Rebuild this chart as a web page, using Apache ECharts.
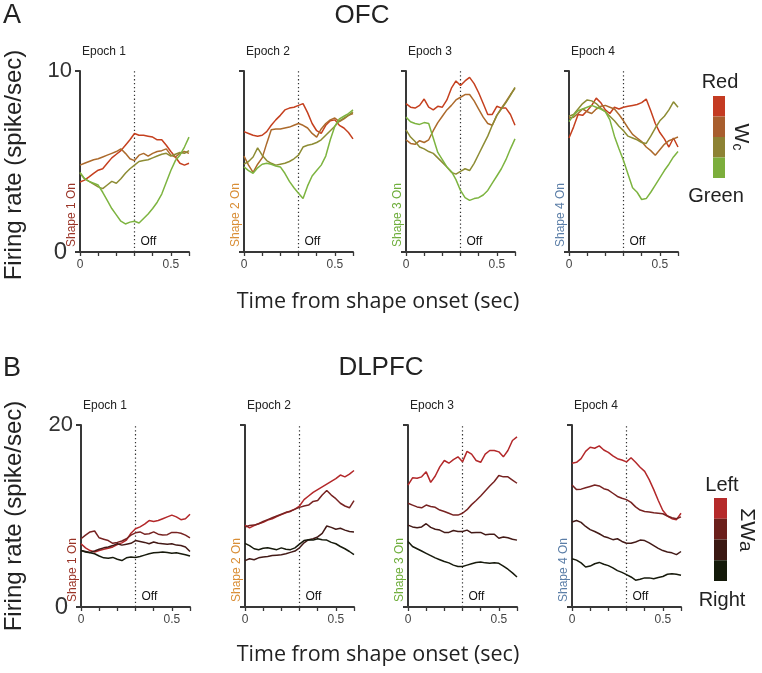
<!DOCTYPE html>
<html><head><meta charset="utf-8">
<script src="https://cdn.jsdelivr.net/npm/echarts@6/dist/echarts.min.js"></script>
<style>html,body{margin:0;padding:0;background:#fff}#c{width:762px;height:673px}</style>
</head><body><div id="c"></div>
<script>
// ---- time grid (sec) ----
const timeSec = [0,0.025,0.05,0.075,0.1,0.125,0.15,0.175,0.2,0.225,0.25,0.275,0.3,0.325,0.35,0.375,0.4,0.425,0.45,0.475,0.5,0.525,0.55,0.575,0.6];
const offTime = 0.3;
const epochLabels = ['Epoch 1','Epoch 2','Epoch 3','Epoch 4'];
const shapeLabels = ['Shape 1 On','Shape 2 On','Shape 3 On','Shape 4 On'];
const ofcTicks = [0, 10];
const dlpfcTicks = [0, 20];
const xTickLabels = ['0','0.5'];

// ---- OFC (Wc: Red -> Green) ----
const ofc1Red   = [3.87,3.97,4.15,4.34,4.52,4.6,4.9,5.2,5.4,5.6,5.9,6.2,6.55,6.45,6.45,6.4,6.35,6.2,6.2,5.9,5.55,5.25,4.9,4.8,4.9];
const ofc1Brown = [4.8,4.9,5.0,5.1,5.15,5.25,5.35,5.45,5.55,5.7,5.45,5.15,5.05,5.35,5.45,5.3,5.45,5.55,5.6,5.7,5.35,5.25,5.45,5.55,5.45];
const ofc1Olive = [4.35,4.05,3.9,3.75,3.6,3.5,3.7,3.9,3.8,4.05,4.35,4.6,4.8,5.0,5.05,5.1,5.2,5.3,5.4,5.45,5.3,5.4,5.5,5.45,5.6];
const ofc1Green = [4.4,4.05,3.9,3.8,3.7,3.3,2.85,2.4,2.05,1.7,1.55,1.65,1.7,1.6,1.85,2.1,2.4,2.75,3.2,3.85,4.5,5.05,5.35,5.8,6.35];

const ofc2Red   = [6.65,6.55,6.45,6.4,6.45,6.65,7.0,7.3,7.55,7.85,7.95,8.0,8.1,8.2,7.7,7.1,6.7,6.55,7.0,7.25,7.3,7.0,6.85,6.6,6.25];
const ofc2Brown = [5.3,4.8,4.4,4.85,5.2,6.0,6.75,6.8,6.8,6.85,6.9,7.0,7.1,7.0,6.85,6.55,6.35,6.8,7.1,7.3,7.4,7.2,7.35,7.55,7.65];
const ofc2Olive = [4.85,5.0,5.25,5.75,5.35,5.05,4.9,4.8,4.85,4.9,5.0,5.15,5.35,5.8,5.9,5.95,6.05,6.2,6.45,6.7,6.95,7.25,7.4,7.55,7.75];
const ofc2Green = [4.7,4.5,4.35,4.65,4.85,4.9,4.85,4.75,4.7,4.35,3.9,3.55,3.25,2.95,3.65,4.2,4.5,4.8,5.3,6.2,6.95,7.35,7.5,7.65,7.85];

const ofc3Red   = [8.2,8.0,7.95,8.1,8.45,8.0,7.85,8.05,8.0,8.4,9.05,9.45,9.2,9.45,9.65,9.3,8.8,8.2,7.6,7.6,8.05,7.95,7.95,7.6,7.0];
const ofc3Brown = [6.2,6.0,5.95,6.15,6.05,6.2,6.7,7.15,7.5,7.85,8.1,8.4,8.55,8.7,8.7,8.35,7.9,7.45,7.1,7.0,7.55,7.95,8.3,8.7,9.05];
const ofc3Olive = [6.75,6.35,6.1,5.8,5.7,5.55,5.45,5.2,4.95,4.7,4.4,4.3,4.45,4.6,4.5,4.9,5.4,5.9,6.4,7.0,7.55,7.9,8.25,8.65,9.1];
const ofc3Green = [7.45,7.2,7.1,7.05,7.15,7.1,6.3,5.5,5.1,4.7,4.45,4.0,3.4,3.0,2.85,2.95,3.0,3.15,3.4,3.8,4.2,4.6,5.1,5.7,6.25];

const ofc4Red   = [6.3,6.9,7.6,7.55,7.8,8.1,8.5,8.25,7.85,7.65,8.0,7.9,8.0,8.05,8.1,8.15,8.25,8.45,7.8,7.1,6.6,6.25,5.8,6.3,5.8];
const ofc4Brown = [7.4,7.45,7.65,7.9,7.75,7.65,7.9,8.05,8.1,8.0,7.9,7.6,7.25,6.85,6.5,6.3,6.1,5.8,5.6,5.35,5.65,5.95,6.15,6.25,6.35];
const ofc4Olive = [7.5,7.6,7.9,8.2,8.4,8.35,8.2,7.95,7.75,7.5,7.25,6.95,6.7,6.4,6.3,6.2,6.05,6.0,6.4,6.85,7.25,7.5,7.85,8.3,8.0];
const ofc4Green = [7.2,7.55,7.8,7.9,8.0,8.1,8.0,7.9,7.75,7.3,6.4,5.7,5.05,4.3,3.55,3.3,2.9,2.95,3.3,3.7,4.1,4.5,4.85,5.25,5.55];

// ---- DLPFC (ΣWa: Left -> Right) ----
const dl1Left    = [6.95,6.5,6.2,6.05,6.2,6.35,6.45,6.6,6.85,7.05,7.35,8.1,8.6,8.8,9.1,9.5,9.4,9.5,9.7,9.9,10.1,9.9,9.6,9.7,10.2];
const dl1MidL    = [7.5,7.9,8.25,8.35,7.6,7.45,7.3,7.0,7.1,7.25,7.5,7.9,8.15,8.25,8.0,8.05,8.25,8.0,7.9,7.95,8.2,8.2,8.1,7.9,7.6];
const dl1MidR    = [6.2,6.1,6.0,6.15,6.35,6.5,6.6,6.75,6.95,6.8,6.9,7.0,7.3,7.2,7.1,6.95,7.15,7.0,6.95,6.9,6.95,6.8,6.75,6.6,6.1];
const dl1Right   = [6.2,6.05,5.95,5.85,5.6,5.4,5.35,5.45,5.25,5.1,5.4,5.5,5.45,5.55,5.7,5.85,5.95,6.0,6.05,6.0,5.9,5.95,5.85,5.75,5.6];

const dl2Left    = [9.0,8.7,8.95,9.15,9.3,9.55,9.7,9.95,10.15,10.35,10.55,10.75,11.1,11.8,12.2,12.6,12.9,13.2,13.5,13.8,14.1,14.5,14.3,14.6,15.0];
const dl2MidL    = [8.8,8.95,9.0,9.15,9.4,9.6,9.8,10.0,10.2,10.4,10.5,10.75,10.95,11.1,11.2,11.6,11.7,12.3,12.8,12.3,11.9,11.4,11.1,10.9,11.7];
const dl2MidR    = [5.1,5.3,5.2,5.4,5.5,5.55,5.65,5.7,5.75,5.85,6.0,6.15,6.5,7.05,7.4,7.5,7.7,8.1,8.9,8.75,8.55,8.65,8.45,8.3,8.25];
const dl2Right   = [7.0,6.75,6.4,6.3,6.45,6.5,6.4,6.3,6.5,6.35,6.3,6.5,6.9,7.3,7.4,7.35,7.5,7.4,7.35,7.1,6.95,6.65,6.4,6.1,5.75];

const dl3Left    = [13.4,14.2,14.15,14.3,14.85,13.7,14.4,15.4,16.1,15.8,16.2,16.5,15.95,17.1,16.8,16.1,15.9,16.8,17.2,17.2,17.05,16.5,17.2,18.3,18.7];
const dl3MidL    = [11.4,11.2,11.0,10.9,11.2,11.05,10.95,10.65,10.5,10.3,10.1,10.1,10.3,10.7,11.25,11.7,12.2,12.75,13.3,13.8,14.45,14.3,14.3,13.95,13.6];
const dl3MidR    = [9.0,8.8,8.7,8.8,9.15,8.75,8.55,8.45,8.2,8.2,8.4,8.3,8.3,8.45,8.15,8.2,8.2,7.95,8.0,8.0,7.55,7.7,7.6,7.45,7.35];
const dl3Right   = [7.2,6.65,6.4,6.15,5.9,5.65,5.4,5.2,5.0,4.85,4.6,4.45,4.45,4.6,4.75,4.9,4.95,4.85,4.8,4.85,4.8,4.5,4.15,3.75,3.3];

const dl4Left    = [15.8,15.9,16.3,17.1,17.55,17.45,17.7,17.25,17.0,16.6,16.3,16.15,15.95,16.4,15.9,15.35,14.9,14.0,12.9,11.7,10.6,10.0,9.7,9.6,10.3];
const dl4MidL    = [13.4,12.9,12.95,13.1,13.25,13.4,13.3,13.0,12.85,12.5,12.15,11.95,11.8,11.5,11.0,10.65,10.5,10.45,10.35,10.3,10.25,10.0,9.8,9.7,9.9];
const dl4MidR    = [9.35,9.5,9.3,8.85,8.5,8.3,8.05,7.75,7.6,7.4,7.5,7.2,7.0,7.0,7.15,7.35,7.3,7.05,6.75,6.45,6.2,6.05,5.95,5.75,6.1];
const dl4Right   = [5.3,5.15,4.85,4.4,4.5,4.75,4.9,4.7,4.55,4.3,4.0,3.8,3.55,3.3,2.95,3.05,3.2,3.2,3.1,3.25,3.35,3.6,3.65,3.6,3.5];

// ---- styling ----
const ofcColors = ['#c5401f','#ac6a2c','#8d8c34','#7db440'];
const dlColors  = ['#b3282a','#772322','#431a17','#171a0c'];
const shapeColors = ['#9a3427','#d98e36','#6fae3c','#5b7ea7'];
const legendTop = ['#c43b22','#a85e2e','#8d8234','#7cae3c'];
const legendBot = ['#b52a2a','#6b1f1b','#3a1812','#141a0a'];
const FONT = 'Liberation Sans, Arial, sans-serif';

const ofcData = [[ofc1Red,ofc1Brown,ofc1Olive,ofc1Green],[ofc2Red,ofc2Brown,ofc2Olive,ofc2Green],[ofc3Red,ofc3Brown,ofc3Olive,ofc3Green],[ofc4Red,ofc4Brown,ofc4Olive,ofc4Green]];
const dlData  = [[dl1Left,dl1MidL,dl1MidR,dl1Right],[dl2Left,dl2MidL,dl2MidR,dl2Right],[dl3Left,dl3MidL,dl3MidR,dl3Right],[dl4Left,dl4MidL,dl4MidR,dl4Right]];

const topLefts = [80,244,406,569];
const botLefts = [81,245,408,572];
const PW = 109;
const grids = [], xAxes = [], yAxes = [], series = [];

function addPanel(gi, left, top, height, ymax, lines, colors, firstCol) {
  grids.push({left:left, top:top, width:PW, height:height, containLabel:false});
  xAxes.push({
    type:'value', gridIndex:gi, min:0, max:0.6, interval:0.1,
    axisLine:{show:true, onZero:false, lineStyle:{color:'#383838', width:2}},
    axisTick:{show:true, length:4, lineStyle:{color:'#383838', width:1.3}},
    axisLabel:{show:true, fontSize:12, color:'#444', margin:7, fontFamily:FONT,
      formatter:v => (Math.abs(v) < 1e-9 ? xTickLabels[0] : (Math.abs(v-0.5) < 1e-9 ? xTickLabels[1] : ''))},
    splitLine:{show:false}
  });
  yAxes.push({
    type:'value', gridIndex:gi, min:0, max:ymax, interval:ymax,
    axisLine:{show:true, onZero:false, lineStyle:{color:'#383838', width:2}},
    axisTick:{show:true, length:5, lineStyle:{color:'#383838', width:2}},
    axisLabel:{show:firstCol, fontSize:22, color:'#333', margin:8, fontFamily:FONT,
      formatter:v => (v === 0 ? '{z|0}' : '{n|' + v + '}'),
      rich:{z:{fontSize:24, fontFamily:FONT, color:'#333', padding:[0,5,0,0]}, n:{fontSize:22, fontFamily:FONT, color:'#333'}}},
    splitLine:{show:false}
  });
  lines.forEach((arr, k) => {
    const s = {
      type:'line', xAxisIndex:gi, yAxisIndex:gi, showSymbol:false, symbol:'none',
      data: timeSec.map((t,i) => [t, arr[i]]),
      lineStyle:{color:colors[k], width:1.5}, itemStyle:{color:colors[k]},
      animation:false, silent:true, z:3
    };
    if (k === 0) {
      s.markLine = {silent:true, symbol:['none','none'], label:{show:false}, animation:false,
        lineStyle:{type:[1.3,2.6], color:'#333', width:1.2}, data:[{xAxis:offTime}], z:2};
    }
    series.push(s);
  });
}
for (let c = 0; c < 4; c++) addPanel(c, topLefts[c], 71, 181, ofcTicks[1], ofcData[c], ofcColors, c === 0);
for (let c = 0; c < 4; c++) addPanel(4+c, botLefts[c], 425, 182, dlpfcTicks[1], dlData[c], dlColors, c === 0);

const chart = echarts.init(document.getElementById('c'), null, {renderer:'canvas'});
chart.setOption({backgroundColor:'#fff', animation:false, grid:grids, xAxis:xAxes, yAxis:yAxes, series:series});

const g = [];
function txt(x, y, text, size, opts) {
  opts = opts || {};
  g.push({type:'text', x:x, y:y, rotation:opts.rot || 0, silent:true,
    style:{text:text, fontSize:size, fontFamily:opts.font || FONT, fill:opts.color || '#222',
      align:opts.align || 'center', verticalAlign:opts.va || 'middle', rich:opts.rich}});
}
// headers
txt(12, 16, 'A', 27);
txt(362, 16, 'OFC', 26);
txt(12, 369, 'B', 27);
txt(381, 368, 'DLPFC', 26);
txt(14, 165, 'Firing rate (spike/sec)', 24, {rot:Math.PI/2});
txt(14, 516, 'Firing rate (spike/sec)', 24, {rot:Math.PI/2});
txt(378, 302, 'Time from shape onset (sec)', 21.5, {font:'Open Sans, sans-serif'});
txt(378, 655, 'Time from shape onset (sec)', 21.5, {font:'Open Sans, sans-serif'});
// per-panel annotations
for (let gi = 0; gi < 8; gi++) {
  const c = gi % 4;
  const p0 = chart.convertToPixel({gridIndex:gi}, [0, 0]);
  const pTop = chart.convertToPixel({gridIndex:gi}, [0, gi < 4 ? ofcTicks[1] : dlpfcTicks[1]]);
  const pOff = chart.convertToPixel({gridIndex:gi}, [offTime, 0]);
  txt(p0[0] + 2, pTop[1] - 19, epochLabels[c], 12, {align:'left', color:'#222'});
  txt(pOff[0] + 6, p0[1] - 10, 'Off', 12, {align:'left', color:'#111'});
  txt(p0[0] - 8, p0[1] - 5, shapeLabels[c], 12, {align:'left', rot:Math.PI/2, color:shapeColors[c]});
}
// colour legends
legendTop.forEach((col, i) => g.push({type:'rect', silent:true, shape:{x:713, y:96 + i*20.5, width:12, height:20.5}, style:{fill:col}}));
legendBot.forEach((col, i) => g.push({type:'rect', silent:true, shape:{x:714, y:498 + i*20.75, width:13, height:20.75}, style:{fill:col}}));
txt(720, 82, 'Red', 20);
txt(716, 196, 'Green', 20);
txt(722, 485, 'Left', 20);
txt(722, 600, 'Right', 20);
txt(741, 137, '{w|W}{s|c}', 20, {rot:-Math.PI/2, rich:{w:{fontSize:21, fontFamily:FONT, fill:'#222'}, s:{fontSize:14, fontFamily:FONT, fill:'#222', padding:[8,0,0,0]}}});
txt(747, 530, '{w|ΣW}{s|a}', 20, {rot:-Math.PI/2, rich:{w:{fontSize:21, fontFamily:FONT, fill:'#222'}, s:{fontSize:19, fontFamily:FONT, fill:'#222', padding:[4,0,0,0]}}});
chart.setOption({graphic:{elements:g}});
</script>
</body></html>
